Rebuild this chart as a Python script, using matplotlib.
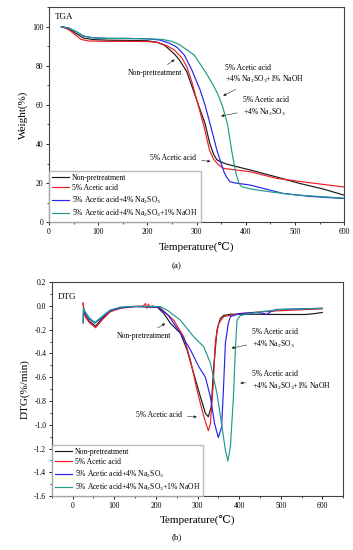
import matplotlib
matplotlib.use('Agg')
import matplotlib.pyplot as plt
from matplotlib.ticker import MultipleLocator

plt.rcParams['font.family'] = ['Liberation Serif', 'DejaVu Serif']
plt.rcParams['mathtext.fontset'] = 'custom'
plt.rcParams['mathtext.rm'] = 'Liberation Serif'
plt.rcParams['mathtext.default'] = 'regular'

# ---- TGA data ----
tga_black_T = [25, 40, 55, 70, 90, 120, 160, 200, 220, 235, 246, 255, 265, 280, 293, 305, 317, 327, 335, 341, 348, 360, 380, 409, 460, 510, 560, 600]
tga_black_W = [100, 99, 96.5, 94.2, 93.4, 93.1, 93, 92.8, 92, 90.5, 88, 86, 83, 77, 67.7, 59, 50.6, 40, 34.5, 32, 31, 29.8, 28.5, 26.7, 23.3, 19.8, 16.8, 13.8]
tga_red_T = [25, 40, 55, 65, 80, 120, 160, 200, 220, 240, 255, 270, 280, 290, 302, 314, 326, 335, 344, 355, 380, 409, 463, 520, 600]
tga_red_W = [100, 98.5, 95.5, 93.5, 92.7, 92.5, 92.5, 92.4, 92, 90.2, 88, 84, 79.5, 72, 61, 50, 37, 32, 29.5, 27.5, 26.7, 25.8, 22.4, 20.5, 18]
tga_blue_T = [25, 40, 55, 70, 90, 120, 160, 200, 225, 245, 260, 275, 290, 307, 317, 327, 335, 341, 350, 356, 361, 368, 380, 409, 440, 476, 530, 600]
tga_blue_W = [100, 99.3, 97.5, 95.2, 94.3, 94, 94, 93.8, 93.2, 91.5, 89.5, 85.5, 78, 67.7, 60, 50.6, 43, 37, 30, 25.5, 23, 20.7, 20, 19, 17, 14.7, 13.2, 12.1]
tga_teal_T = [25, 40, 55, 70, 90, 120, 160, 200, 230, 250, 265, 280, 295, 307, 320, 334, 344, 353, 363, 371, 376, 380, 386, 392, 410, 450, 500, 600]
tga_teal_W = [100, 99.3, 97.5, 95.2, 94.3, 94, 94, 93.8, 93.5, 92.5, 90.8, 88.2, 85.5, 81, 76, 70, 65, 59, 50, 37, 30, 25, 20, 18.1, 17, 15.5, 14, 12.3]

# ---- DTG data ----
dtg_black_T = [25, 27, 30, 40, 55, 70, 90, 115, 150, 203, 219, 235, 259, 275, 291, 307, 319, 326, 333, 339, 347, 355, 363, 380, 420, 500, 560, 580, 600]
dtg_black_D = [0.02, -0.04, -0.08, -0.13, -0.17, -0.11, -0.04, -0.015, -0.005, -0.01, -0.063, -0.147, -0.23, -0.37, -0.57, -0.765, -0.904, -0.933, -0.85, -0.51, -0.2, -0.105, -0.08, -0.07, -0.07, -0.072, -0.072, -0.065, -0.055]
dtg_red_T = [25, 27, 30, 40, 55, 70, 90, 115, 150, 170, 175, 178, 182, 186, 190, 210, 243, 267, 283, 299, 315, 326, 331, 338, 343, 351, 363, 400, 450, 500, 600]
dtg_red_D = [0.026, -0.05, -0.09, -0.14, -0.184, -0.12, -0.05, -0.02, -0.005, 0.0, 0.02, -0.02, 0.015, -0.015, 0.0, -0.015, -0.12, -0.26, -0.456, -0.71, -0.93, -1.05, -0.99, -0.65, -0.29, -0.147, -0.09, -0.065, -0.05, -0.04, -0.025]
dtg_blue_T = [25, 26, 30, 40, 53, 70, 90, 115, 150, 205, 230, 259, 283, 303, 319, 331, 341, 350, 358, 363, 367, 374, 379, 400, 440, 455, 466, 475, 490, 600]
dtg_blue_D = [-0.145, -0.02, -0.06, -0.11, -0.145, -0.1, -0.04, -0.015, -0.005, -0.01, -0.08, -0.23, -0.37, -0.51, -0.6, -0.765, -0.99, -1.107, -1.02, -0.65, -0.316, -0.147, -0.09, -0.065, -0.055, -0.06, -0.072, -0.05, -0.03, -0.02]
dtg_teal_T = [25, 26, 30, 40, 53, 70, 90, 115, 150, 210, 227, 259, 291, 315, 331, 347, 359, 367, 373, 379, 386, 391, 395, 403, 450, 500, 600]
dtg_teal_D = [-0.13, -0.02, -0.05, -0.1, -0.14, -0.09, -0.035, -0.01, -0.003, -0.005, -0.035, -0.12, -0.26, -0.344, -0.48, -0.74, -1.02, -1.213, -1.305, -1.185, -0.79, -0.37, -0.12, -0.08, -0.05, -0.03, -0.02]

labels = ['Non-pretreatment', '5% Acetic acid',
          r'5% Acetic acid+4% Na$_2$SO$_3$',
          r'5% Acetic acid+4% Na$_2$SO$_3$+1% NaOH']
colors = ['#1a1a1a', '#ee1c24', '#2424ee', '#1f9a8a']

fig = plt.figure(figsize=(3.53, 5.5), dpi=100)
ax1 = fig.add_axes([0.139, 0.596, 0.836, 0.391])
ax2 = fig.add_axes([0.147, 0.098, 0.825, 0.389])

fs = 5.5
lw = 0.85

def style(ax):
    for sp in ax.spines.values():
        sp.set_linewidth(0.8)
        sp.set_color('#444444')
    ax.tick_params(which='major', direction='out', length=2.5, width=0.6, labelsize=fs, pad=1.5)
    ax.tick_params(which='minor', direction='out', length=1.5, width=0.5)


# TGA
tga = [(tga_black_T, tga_black_W), (tga_red_T, tga_red_W), (tga_blue_T, tga_blue_W), (tga_teal_T, tga_teal_W)]
for (x, y), c, lab in zip(tga, colors, labels):
    ax1.plot(x, y, color=c, lw=lw, label=lab)
ax1.set_xlim(0, 600)
ax1.set_ylim(0, 110)
ax1.set_yticks([0, 20, 40, 60, 80, 100])
ax1.xaxis.set_minor_locator(MultipleLocator(50))
ax1.yaxis.set_minor_locator(MultipleLocator(10))
style(ax1)
ax1.set_xlabel('Temperature(℃)', fontsize=8, labelpad=4)
ax1.set_ylabel('Weight(%)', fontsize=8, labelpad=3)
ax1.text(0.02, 0.975, 'TGA', transform=ax1.transAxes, fontsize=6.5, va='top')
ax1.legend(loc='lower left', fontsize=fs, handlelength=2.2, labelspacing=0.3,
           borderaxespad=0, frameon=True, fancybox=False, edgecolor='#aaaaaa',
           borderpad=0.4, handletextpad=0.4)

ap = dict(arrowstyle='-|>', color='#222222', lw=0.4, mutation_scale=4)
ax1.annotate('Non-pretreatment', xy=(260, 84), xytext=(216, 76.4), fontsize=fs,
             ha='center', va='center', arrowprops=ap)
ax1.annotate('5% Acetic acid\n' + r'+4% Na$_2$SO$_3$+1% NaOH', xy=(349, 64), xytext=(358, 75.5),
             fontsize=fs, ha='left', va='center', arrowprops=ap, linespacing=1.3)
ax1.annotate('5% Acetic acid\n' + r'+4% Na$_2$SO$_3$', xy=(344, 54), xytext=(394, 58.8),
             fontsize=fs, ha='left', va='center', arrowprops=ap, linespacing=1.3)
ax1.annotate('5% Acetic acid', xy=(334, 31), xytext=(252, 32.8), fontsize=fs,
             ha='center', va='center', arrowprops=ap)
fig.text(0.5, 1 - 266 / 550, '(a)', fontsize=6.5, ha='center', va='center')

# DTG
dtg = [(dtg_black_T, dtg_black_D), (dtg_red_T, dtg_red_D), (dtg_blue_T, dtg_blue_D), (dtg_teal_T, dtg_teal_D)]
for (x, y), c, lab in zip(dtg, colors, labels):
    ax2.plot(x, y, color=c, lw=lw, label=lab)
ax2.set_xlim(-50, 650)
ax2.set_ylim(-1.6, 0.2)
ax2.set_xticks([0, 100, 200, 300, 400, 500, 600])
ax2.set_yticks([-1.6, -1.4, -1.2, -1.0, -0.8, -0.6, -0.4, -0.2, 0.0, 0.2])
ax2.yaxis.set_major_formatter(matplotlib.ticker.FormatStrFormatter('%.1f'))
ax2.xaxis.set_minor_locator(MultipleLocator(50))
ax2.yaxis.set_minor_locator(MultipleLocator(0.1))
style(ax2)
ax2.set_xlabel('Temperature(℃)', fontsize=8, labelpad=4)
ax2.set_ylabel('DTG(%/min)', fontsize=8, labelpad=3)
ax2.text(0.02, 0.95, 'DTG', transform=ax2.transAxes, fontsize=6.5, va='top')
ax2.legend(loc='lower left', fontsize=fs, handlelength=2.2, labelspacing=0.3,
           borderaxespad=0, frameon=True, fancybox=False, edgecolor='#aaaaaa',
           borderpad=0.4, handletextpad=0.4)

ax2.annotate('Non-pretreatment', xy=(228, -0.136), xytext=(171, -0.254), fontsize=fs,
             ha='center', va='center', arrowprops=ap)
ax2.annotate('5% Acetic acid\n' + r'+4% Na$_2$SO$_3$', xy=(375, -0.36), xytext=(432, -0.28),
             fontsize=fs, ha='left', va='center', arrowprops=ap, linespacing=1.3)
ax2.annotate('5% Acetic acid\n' + r'+4% Na$_2$SO$_3$+1% NaOH', xy=(396, -0.65), xytext=(430, -0.63),
             fontsize=fs, ha='left', va='center', arrowprops=ap, linespacing=1.3)
ax2.annotate('5% Acetic acid', xy=(305, -0.935), xytext=(207, -0.92), fontsize=fs,
             ha='center', va='center', arrowprops=ap)
fig.text(0.5, 1 - 537 / 550, '(b)', fontsize=6.5, ha='center', va='center')

fig.savefig('out.png', dpi=100)
